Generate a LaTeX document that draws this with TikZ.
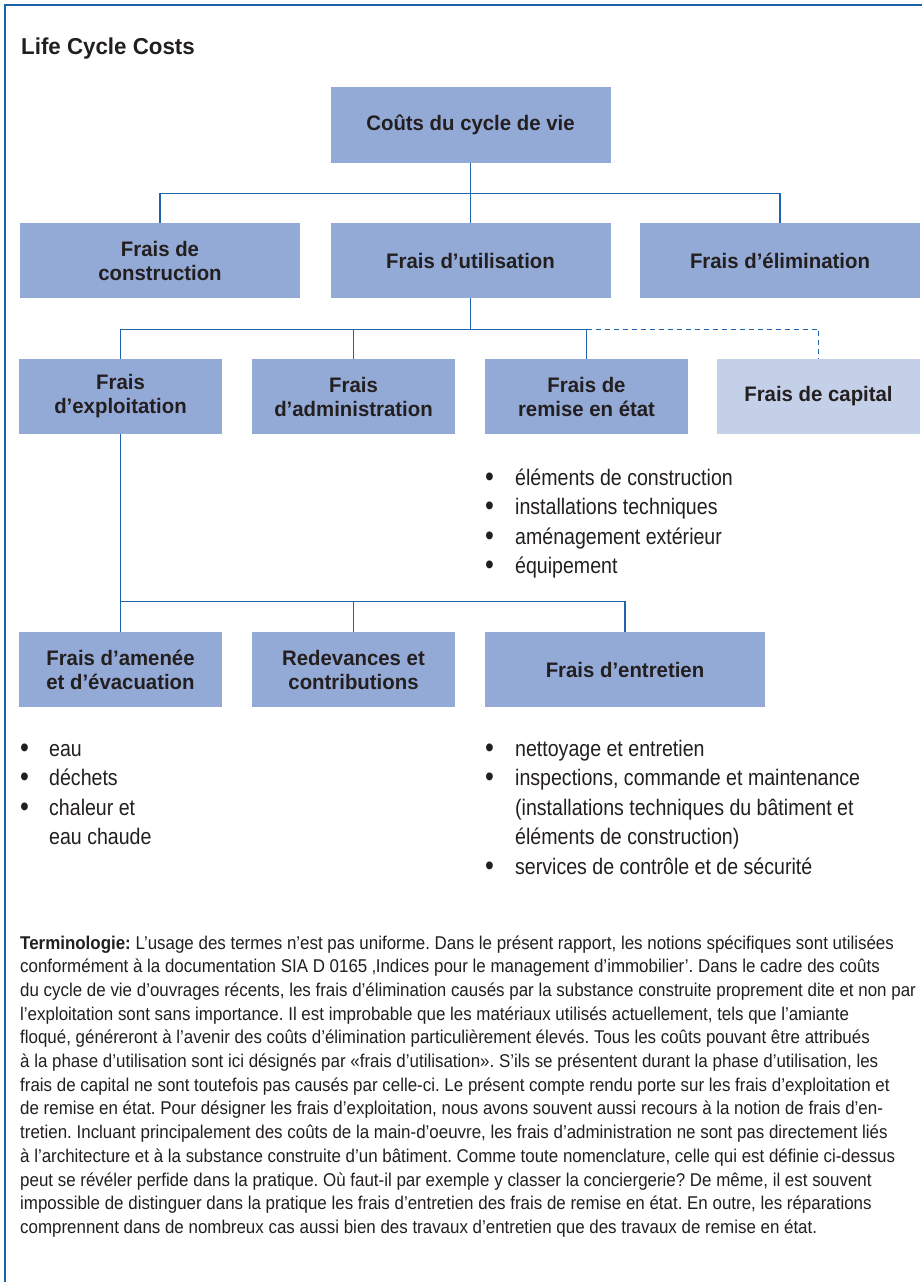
\documentclass[tikz,border=0pt]{standalone}
\usepackage{fontspec}
\setmainfont{Liberation Sans}
\newfontfamily\boxfont{Liberation Sans}[FakeStretch=0.97]
\newfontfamily\condfont{Liberation Sans}[FakeStretch=0.87]
\newfontfamily\parafont{Liberation Sans}[FakeStretch=0.915]
\usetikzlibrary{calc}
\definecolor{boxblue}{RGB}{148,170,214}
\definecolor{boxlight}{RGB}{196,207,232}
\definecolor{lineblue}{RGB}{31,100,170}
\definecolor{framblue}{RGB}{28,98,168}
\definecolor{txt}{RGB}{35,31,32}
\newcommand{\bul}{\raisebox{-1.2pt}{\fontsize{29}{29}\selectfont •}}
\tikzset{
  costbox/.style={fill=boxblue, inner sep=0pt, align=center, text=txt,
    font=\boxfont\bfseries\fontsize{21}{24}\selectfont},
  conn/.style={draw=lineblue, line width=1.3pt},
  frameline/.style={draw=framblue, line width=1.6pt},
  listnode/.style={anchor=base west, inner sep=0pt, text=txt,
    font=\condfont\fontsize{22.5}{29.5}\selectfont},
}
\begin{document}
\begin{tikzpicture}[x=1pt,y=-1pt]
\useasboundingbox (0,0) rectangle (922,1282);
\fill[white] (0,0) rectangle (922,1282);
\draw[frameline] (922,5) -- (5,5) -- (5,1282);

\node[anchor=base west, inner sep=0pt, text=txt, font=\boxfont\bfseries\fontsize{23}{26}\selectfont] (title) at (21,54.5) {Life Cycle Costs};

% level 1
\node[costbox, minimum width=280pt, minimum height=76pt] (root) at (470.5,125) {Coûts du cycle de vie};
% level 2
\node[costbox, minimum width=280pt, minimum height=75pt] (constr) at (160,260.5) {Frais de\\construction};
\node[costbox, minimum width=280pt, minimum height=75pt] (util) at (470.5,260.5) {Frais d’utilisation};
\node[costbox, minimum width=280pt, minimum height=75pt] (elim) at (780,260.5) {Frais d’élimination};
% level 3
\node[costbox, minimum width=203pt, minimum height=75pt] (exploit) at (120.5,396.5) {Frais\\d’exploitation};
\node[costbox, minimum width=203pt, minimum height=75pt] (admin) at (353.5,396.5) {Frais\\d’administration};
\node[costbox, minimum width=203pt, minimum height=75pt] (remise) at (586.5,396.5) {Frais de\\remise en état};
\node[costbox, fill=boxlight, minimum width=203pt, minimum height=75pt] (capital) at (818.5,396.5) {Frais de capital};
% level 4
\node[costbox, minimum width=203pt, minimum height=75pt] (amenee) at (120.5,669.5) {Frais d’amenée\\et d’évacuation};
\node[costbox, minimum width=203pt, minimum height=75pt] (redev) at (353.5,669.5) {Redevances et\\contributions};
\node[costbox, minimum width=280pt, minimum height=75pt] (entretien) at (625,669.5) {Frais d’entretien};

% connectors
\coordinate (j1) at ($(root.south)+(0,30)$);
\draw[conn] (root.south) -- (util.north);
\draw[conn] (constr.north) |- (j1) -| (elim.north);
\coordinate (j2) at ($(util.south)+(0,31)$);
\draw[conn] (util.south) -- (j2);
\draw[conn] (exploit.north) |- (j2) -| (remise.north);
\draw[conn] (admin.north) -- (admin.north |- j2);
\draw[conn, dash pattern=on 5pt off 4pt] (remise.north |- j2) -| (capital.north);
\coordinate (j3) at ($(exploit.south)+(0,167)$);
\draw[conn] (exploit.south) -- (amenee.north);
\draw[conn] (j3) -| (entretien.north);
\draw[conn] (redev.north) -- (redev.north |- j3);

% bullet lists
\node[listnode] (listremise) at (485,485)
 {\begin{tabular}[t]{@{}p{30pt}@{}l@{}}
 \bul&éléments de construction\\
 \bul&installations techniques\\
 \bul&aménagement extérieur\\
 \bul&équipement
 \end{tabular}};
\node[listnode] (listamenee) at (20,756)
 {\begin{tabular}[t]{@{}p{29pt}@{}l@{}}
 \bul&eau\\
 \bul&déchets\\
 \bul&chaleur et\\
 &eau chaude
 \end{tabular}};
\node[listnode] (listentretien) at (485,756)
 {\begin{tabular}[t]{@{}p{30pt}@{}l@{}}
 \bul&nettoyage et entretien\\
 \bul&inspections, commande et maintenance\\
 &(installations techniques du bâtiment et\\
 &éléments de construction)\\
 \bul&services de contrôle et de sécurité
 \end{tabular}};

% terminology
\node[anchor=base west, inner sep=0pt, text=txt, font=\parafont\frenchspacing\fontsize{18.5}{23.7}\selectfont] (termino) at (20,949)
 {\begin{tabular}[t]{@{}l@{}}
 {\bfseries Terminologie:} L’usage des termes n’est pas uniforme. Dans le présent rapport, les notions spécifiques sont utilisées\\
 conformément à la documentation SIA D 0165 ‚Indices pour le management d’immobilier’. Dans le cadre des coûts\\
 du cycle de vie d’ouvrages récents, les frais d’élimination causés par la substance construite proprement dite et non par\\
 l’exploitation sont sans importance. Il est improbable que les matériaux utilisés actuellement, tels que l’amiante\\
 floqué, généreront à l’avenir des coûts d’élimination particulièrement élevés. Tous les coûts pouvant être attribués\\
 à la phase d’utilisation sont ici désignés par «frais d’utilisation». S’ils se présentent durant la phase d’utilisation, les\\
 frais de capital ne sont toutefois pas causés par celle-ci. Le présent compte rendu porte sur les frais d’exploitation et\\
 de remise en état. Pour désigner les frais d’exploitation, nous avons souvent aussi recours à la notion de frais d’en-\\
 tretien. Incluant principalement des coûts de la main-d’oeuvre, les frais d’administration ne sont pas directement liés\\
 à l’architecture et à la substance construite d’un bâtiment. Comme toute nomenclature, celle qui est définie ci-dessus\\
 peut se révéler perfide dans la pratique. Où faut-il par exemple y classer la conciergerie? De même, il est souvent\\
 impossible de distinguer dans la pratique les frais d’entretien des frais de remise en état. En outre, les réparations\\
 comprennent dans de nombreux cas aussi bien des travaux d’entretien que des travaux de remise en état.
 \end{tabular}};
\end{tikzpicture}
\end{document}
